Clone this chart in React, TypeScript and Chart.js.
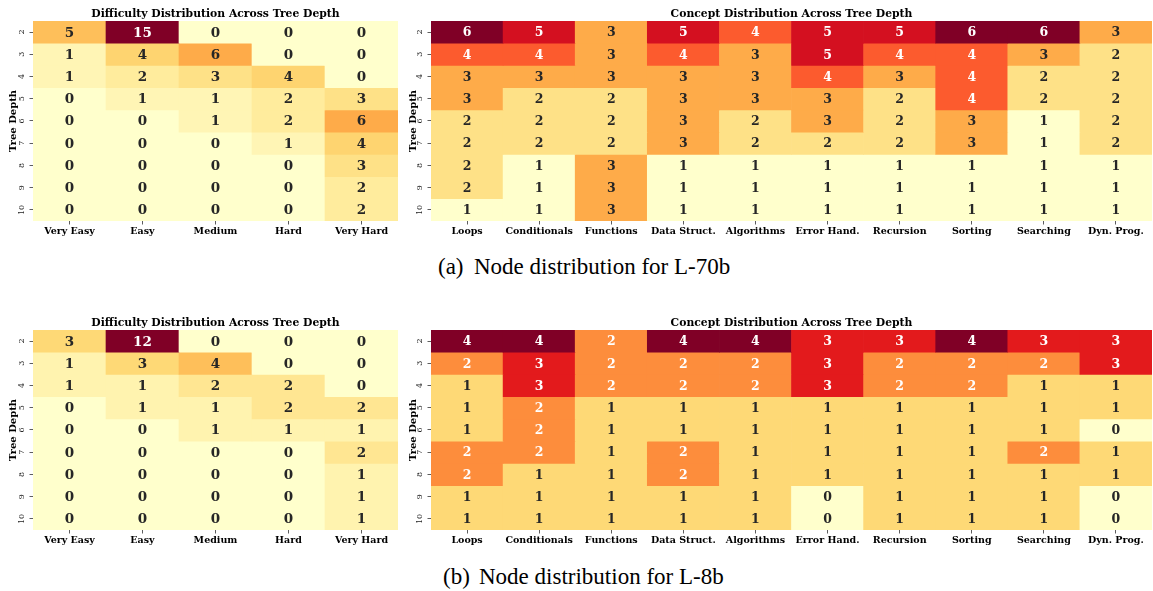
import React, { useEffect, useRef } from 'react';
import { Chart, registerables } from 'chart.js';

Chart.register(...registerables);

const depths = ['2', '3', '4', '5', '6', '7', '8', '9', '10'];
const difficultyLevels = ['Very Easy', 'Easy', 'Medium', 'Hard', 'Very Hard'];
const concepts = ['Loops', 'Conditionals', 'Functions', 'Data Struct.', 'Algorithms', 'Error Hand.', 'Recursion', 'Sorting', 'Searching', 'Dyn. Prog.'];

const difficultyL70b = [
  [5, 15, 0, 0, 0],
  [1, 4, 6, 0, 0],
  [1, 2, 3, 4, 0],
  [0, 1, 1, 2, 3],
  [0, 0, 1, 2, 6],
  [0, 0, 0, 1, 4],
  [0, 0, 0, 0, 3],
  [0, 0, 0, 0, 2],
  [0, 0, 0, 0, 2],
];

const conceptL70b = [
  [6, 5, 3, 5, 4, 5, 5, 6, 6, 3],
  [4, 4, 3, 4, 3, 5, 4, 4, 3, 2],
  [3, 3, 3, 3, 3, 4, 3, 4, 2, 2],
  [3, 2, 2, 3, 3, 3, 2, 4, 2, 2],
  [2, 2, 2, 3, 2, 3, 2, 3, 1, 2],
  [2, 2, 2, 3, 2, 2, 2, 3, 1, 2],
  [2, 1, 3, 1, 1, 1, 1, 1, 1, 1],
  [2, 1, 3, 1, 1, 1, 1, 1, 1, 1],
  [1, 1, 3, 1, 1, 1, 1, 1, 1, 1],
];

const difficultyL8b = [
  [3, 12, 0, 0, 0],
  [1, 3, 4, 0, 0],
  [1, 1, 2, 2, 0],
  [0, 1, 1, 2, 2],
  [0, 0, 1, 1, 1],
  [0, 0, 0, 0, 2],
  [0, 0, 0, 0, 1],
  [0, 0, 0, 0, 1],
  [0, 0, 0, 0, 1],
];

const conceptL8b = [
  [4, 4, 2, 4, 4, 3, 3, 4, 3, 3],
  [2, 3, 2, 2, 2, 3, 2, 2, 2, 3],
  [1, 3, 2, 2, 2, 3, 2, 2, 1, 1],
  [1, 2, 1, 1, 1, 1, 1, 1, 1, 1],
  [1, 2, 1, 1, 1, 1, 1, 1, 1, 0],
  [2, 2, 1, 2, 1, 1, 1, 1, 2, 1],
  [2, 1, 1, 2, 1, 1, 1, 1, 1, 1],
  [1, 1, 1, 1, 1, 0, 1, 1, 1, 0],
  [1, 1, 1, 1, 1, 0, 1, 1, 1, 0],
];

const difficultyTitle = 'Difficulty Distribution Across Tree Depth';
const conceptTitle = 'Concept Distribution Across Tree Depth';
const captionA = 'Node distribution for L-70b';
const captionB = 'Node distribution for L-8b';

const YLORRD = ['#ffffcc', '#ffeda0', '#fed976', '#feb24c', '#fd8d3c', '#fc4e2a', '#e31a1c', '#bd0026', '#800026'];

function hexToRgb(h: string): number[] {
  return [parseInt(h.slice(1, 3), 16), parseInt(h.slice(3, 5), 16), parseInt(h.slice(5, 7), 16)];
}

function cmap(t: number): number[] {
  const tt = Math.max(0, Math.min(1, t));
  const p = tt * (YLORRD.length - 1);
  const i = Math.min(YLORRD.length - 2, Math.floor(p));
  const f = p - i;
  const a = hexToRgb(YLORRD[i]);
  const b = hexToRgb(YLORRD[i + 1]);
  return [0, 1, 2].map((k) => Math.round(a[k] + (b[k] - a[k]) * f));
}

function luminance(rgb: number[]): number {
  const lin = (c: number) => {
    const v = c / 255;
    return v <= 0.03928 ? v / 12.92 : Math.pow((v + 0.055) / 1.055, 2.4);
  };
  return 0.2126 * lin(rgb[0]) + 0.7152 * lin(rgb[1]) + 0.0722 * lin(rgb[2]);
}

const SERIF = '"DejaVu Serif", serif';

type HeatProps = {
  left: number;
  top: number;
  width: number;
  height: number;
  yAxisWidth: number;
  padRight: number;
  xAxisHeight: number;
  cols: string[];
  rows: string[];
  values: number[][];
  title: string;
  annotSize: number;
};

function Heatmap(props: HeatProps) {
  const ref = useRef<HTMLCanvasElement | null>(null);
  useEffect(() => {
    const { cols, rows, values, title, annotSize, yAxisWidth, padRight, xAxisHeight } = props;
    const flat = values.flat();
    const vmin = Math.min(...flat);
    const vmax = Math.max(...flat);
    const rgbFor = (v: number) => cmap((v - vmin) / (vmax - vmin));
    const css = (c: number[]) => `rgb(${c[0]},${c[1]},${c[2]})`;

    const annotPlugin = {
      id: 'annot',
      afterDatasetsDraw(chart: any) {
        const ctx = chart.ctx;
        ctx.save();
        ctx.font = `bold ${annotSize}px ${SERIF}`;
        ctx.textAlign = 'center';
        ctx.textBaseline = 'middle';
        rows.forEach((_, i) => {
          const meta = chart.getDatasetMeta(i);
          meta.data.forEach((bar: any, j: number) => {
            const v = values[i][j];
            const rgb = rgbFor(v);
            ctx.fillStyle = luminance(rgb) > 0.408 ? '#262626' : '#ffffff';
            const cy = (bar.y + bar.base) / 2;
            ctx.fillText(String(v), bar.x, cy + 1);
          });
        });
        ctx.restore();
      },
    };

    const chart = new Chart(ref.current as HTMLCanvasElement, {
      type: 'bar',
      data: {
        labels: cols,
        datasets: rows.map((r, i) => ({
          label: r,
          data: cols.map(() => [i, i + 1]) as any,
          backgroundColor: values[i].map((v) => css(rgbFor(v))),
          borderWidth: 0,
          barPercentage: 1,
          categoryPercentage: 1,
          grouped: false,
        })),
      },
      options: {
        animation: false,
        responsive: false,
        maintainAspectRatio: false,
        layout: { padding: { left: 0, right: padRight, top: 0, bottom: 0 } },
        plugins: {
          legend: { display: false },
          tooltip: { enabled: false },
          title: {
            display: true,
            text: title,
            fullSize: false,
            color: '#000',
            font: { family: SERIF, size: 10.8, weight: 'bold' },
            padding: { top: 8, bottom: 0 },
          },
        },
        scales: {
          x: {
            type: 'category',
            offset: true,
            grid: { offset: false, drawOnChartArea: false, drawTicks: true, tickLength: 3.5, color: '#333', lineWidth: 0.8 },
            border: { display: false },
            ticks: {
              autoSkip: false,
              maxRotation: 0,
              minRotation: 0,
              padding: 1,
              color: '#000',
              font: { family: SERIF, size: 9.5, weight: 'bold' },
            },
            afterFit: (s: any) => {
              s.height = xAxisHeight;
            },
          },
          y: {
            type: 'linear',
            min: 0,
            max: rows.length,
            reverse: true,
            afterBuildTicks: (s: any) => {
              s.ticks = rows.map((_, i) => ({ value: i + 0.5 }));
            },
            grid: { drawOnChartArea: false, drawTicks: true, tickLength: 3.5, color: '#333', lineWidth: 0.8 },
            border: { display: false },
            ticks: {
              autoSkip: false,
              minRotation: 90,
              maxRotation: 90,
              crossAlign: 'center',
              padding: 2,
              color: '#222',
              font: { family: SERIF, size: 8 },
              callback: (_v: any, i: number) => rows[i],
            },
            title: {
              display: true,
              text: 'Tree Depth',
              color: '#000',
              font: { family: SERIF, size: 10, weight: 'bold' },
              padding: { top: 7, bottom: 0 },
            },
            afterFit: (s: any) => {
              s.width = yAxisWidth;
            },
          },
        },
      } as any,
      plugins: [annotPlugin],
    });
    return () => chart.destroy();
  }, []);
  return (
    <canvas
      ref={ref}
      width={props.width}
      height={props.height}
      style={{ position: 'absolute', left: props.left, top: props.top, width: props.width, height: props.height }}
    />
  );
}

function Caption({ tag, text, left, top }: { tag: string; text: string; left: number; top: number }) {
  return (
    <div
      style={{
        position: 'absolute',
        left,
        top,
        height: 24,
        lineHeight: '24px',
        fontFamily: '"Liberation Serif", "Times New Roman", serif',
        fontSize: 23,
        color: '#000',
        whiteSpace: 'nowrap',
      }}
    >
      <span style={{ display: 'inline-block', width: 36 }}>{tag}</span>
      {text}
    </div>
  );
}

export default function App() {
  return (
    <div style={{ position: 'absolute', left: 0, top: 0, width: 1153, height: 591, background: '#fff', overflow: 'hidden' }}>
      <Heatmap left={0} top={0} width={400} height={240} yAxisWidth={33} padRight={2} xAxisHeight={19}
        cols={difficultyLevels} rows={depths} values={difficultyL70b} title={difficultyTitle} annotSize={13.5} />
      <Heatmap left={400} top={0} width={753} height={240} yAxisWidth={31} padRight={1} xAxisHeight={19}
        cols={concepts} rows={depths} values={conceptL70b} title={conceptTitle} annotSize={12.5} />
      <Caption tag="(a)" text={captionA} left={438} top={255} />
      <Heatmap left={0} top={309} width={400} height={240} yAxisWidth={33} padRight={2} xAxisHeight={19}
        cols={difficultyLevels} rows={depths} values={difficultyL8b} title={difficultyTitle} annotSize={13.5} />
      <Heatmap left={400} top={309} width={753} height={240} yAxisWidth={31} padRight={1} xAxisHeight={19}
        cols={concepts} rows={depths} values={conceptL8b} title={conceptTitle} annotSize={12.5} />
      <Caption tag="(b)" text={captionB} left={443} top={565} />
    </div>
  );
}
